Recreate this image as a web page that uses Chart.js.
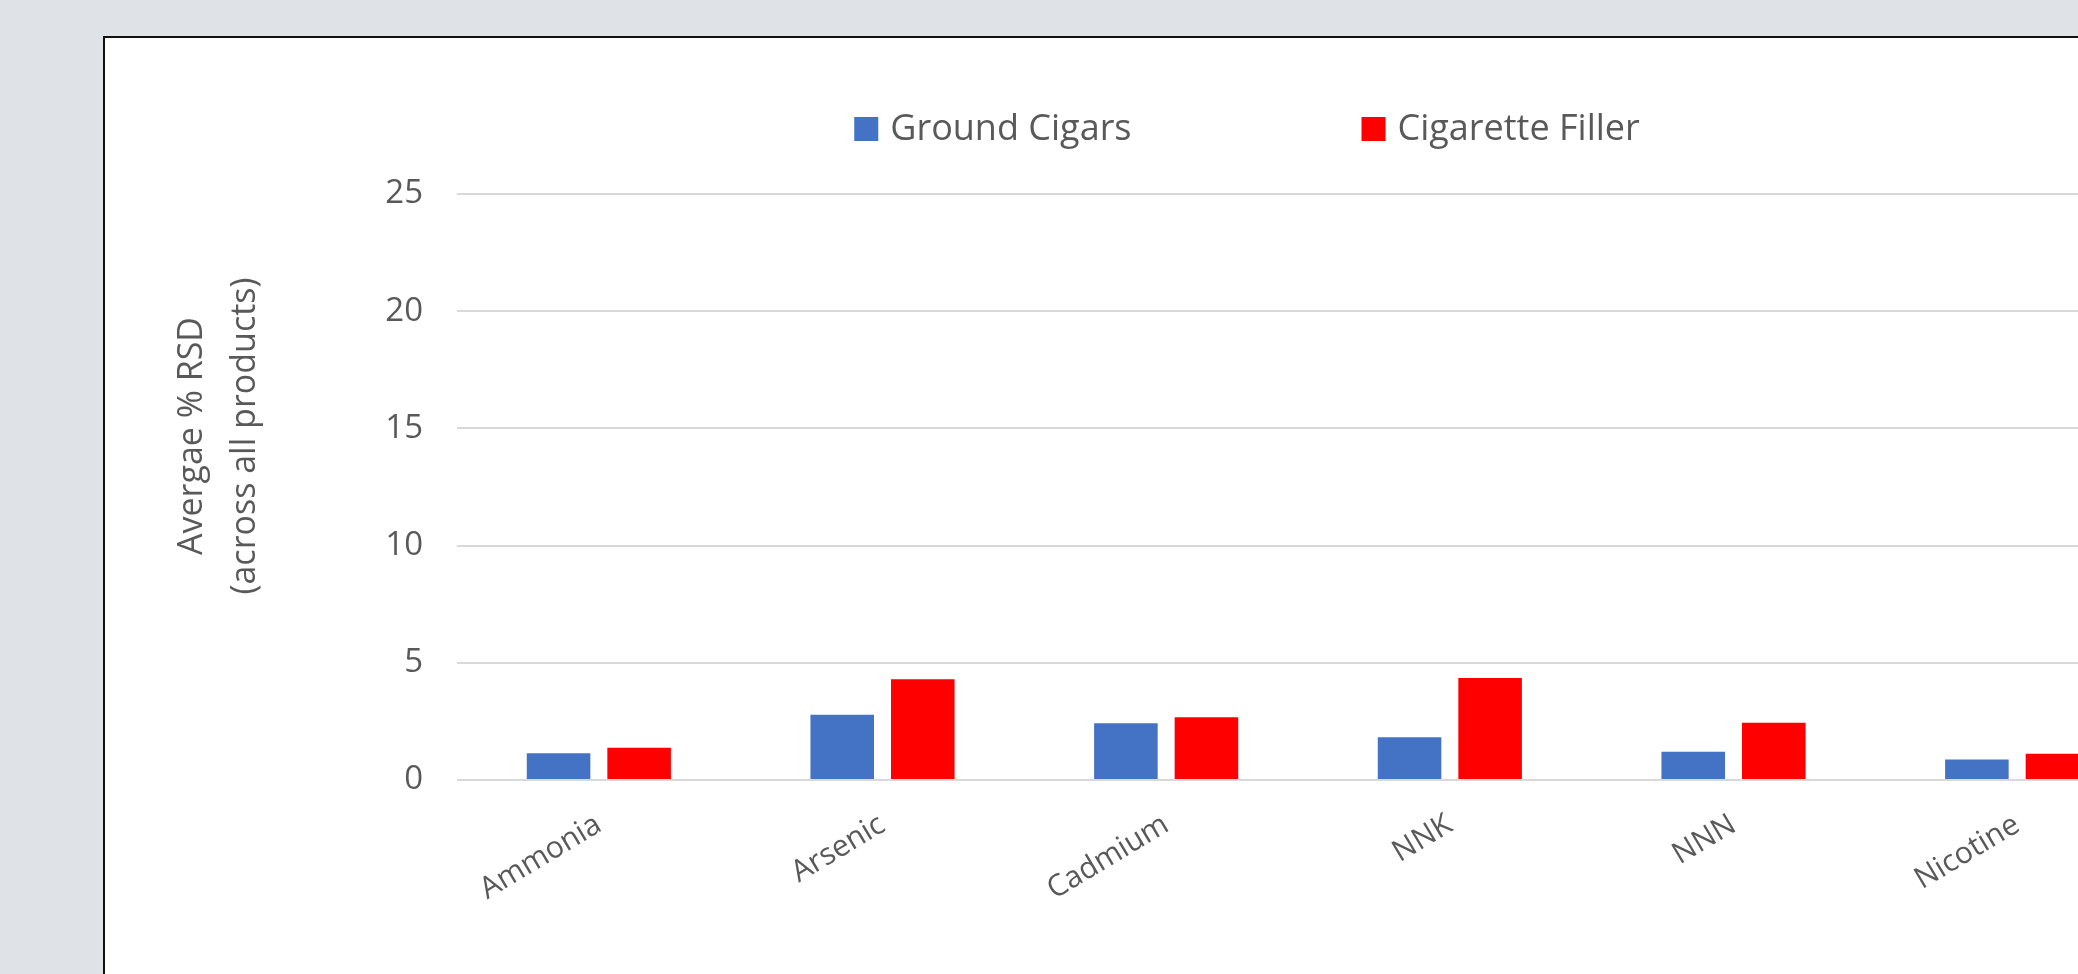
<!DOCTYPE html>
<html lang="en">
<head>
    <meta charset="UTF-8">
    <title>Average % RSD - Ground Cigars vs Cigarette Filler</title>
    <script src="https://cdn.jsdelivr.net/npm/chart.js"></script>
    <style>
        * { margin: 0; padding: 0; box-sizing: border-box; }
        body { background: #dfe3e7; width: 2078px; height: 974px; overflow: hidden; position: relative; font-family: 'Open Sans', sans-serif; }
        .frame { position: absolute; left: 103px; top: 36px; width: 2400px; height: 1000px; background: #fff; border: 2px solid #111; }
        #rsdChart { position: absolute; left: 105px; top: 38px; }
    </style>
</head>
<body>

<div class="frame"></div>
<canvas id="rsdChart" width="2300" height="940"></canvas>

<script>
    // Data
    const categories = ['Ammonia', 'Arsenic', 'Cadmium', 'NNK', 'NNN', 'Nicotine'];
    const groundCigars = [1.14, 2.78, 2.42, 1.82, 1.2, 0.87];
    const cigaretteFiller = [1.38, 4.3, 2.68, 4.35, 2.44, 1.12];
    const seriesNames = ['Ground Cigars', 'Cigarette Filler'];
    const yTicks = [0, 5, 10, 15, 20, 25];
    const yTitle = ['Avergae % RSD', '(across all products)'];

    const textGrey = '#595959';
    Chart.defaults.font.family = "'Open Sans', sans-serif";
    Chart.defaults.color = textGrey;

    // Legend and the two-line axis title, drawn the way the original places them
    const chartDecor = {
        id: 'chartDecor',
        afterDraw(chart) {
            const ctx = chart.ctx;
            ctx.save();

            // legend
            ctx.font = "36px 'Open Sans', sans-serif";
            ctx.textBaseline = 'middle';
            ctx.textAlign = 'left';
            const box = 24, textGap = 12, itemGap = 230, legendY = 91;
            const items = chart.data.datasets.map(ds => ({
                text: ds.label,
                color: ds.backgroundColor,
                w: ctx.measureText(ds.label).width
            }));
            const total = items.reduce((s, it) => s + box + textGap + it.w, 0) + itemGap * (items.length - 1);
            let x = chart.width / 2 - total / 2 - 8;
            items.forEach(it => {
                ctx.fillStyle = it.color;
                ctx.fillRect(x, legendY - box / 2, box, box);
                ctx.fillStyle = textGrey;
                ctx.fillText(it.text, x + box + textGap, legendY + 1);
                x += box + textGap + it.w + itemGap;
            });

            // y axis title
            ctx.translate(87, 398);
            ctx.rotate(-Math.PI / 2);
            ctx.textAlign = 'center';
            ctx.font = "34px 'Open Sans', sans-serif";
            ctx.fillStyle = textGrey;
            yTitle.forEach((line, i) => ctx.fillText(line, 0, i * 53));

            ctx.restore();
        }
    };

    new Chart(document.getElementById('rsdChart'), {
        type: 'bar',
        data: {
            labels: categories,
            datasets: [
                { label: seriesNames[0], data: groundCigars, backgroundColor: '#4472c4' },
                { label: seriesNames[1], data: cigaretteFiller, backgroundColor: '#ff0000' }
            ]
        },
        options: {
            responsive: false,
            animation: false,
            devicePixelRatio: 1,
            categoryPercentage: 0.568,
            barPercentage: 0.789,
            layout: { padding: { top: 156, right: 246, bottom: 0, left: 0 } },
            plugins: {
                legend: { display: false },
                tooltip: { enabled: false }
            },
            scales: {
                x: {
                    grid: { display: false, drawTicks: false },
                    border: { display: false },
                    ticks: {
                        font: { size: 30 },
                        color: textGrey,
                        minRotation: 31,
                        maxRotation: 31,
                        autoSkip: false,
                        padding: 27
                    },
                    afterFit(scale) { scale.height = 198; }
                },
                y: {
                    min: 0,
                    max: 25,
                    afterBuildTicks(scale) { scale.ticks = yTicks.map(v => ({ value: v })); },
                    grid: { color: '#d9d9d9', lineWidth: 2, drawTicks: false },
                    border: { display: false },
                    ticks: {
                        font: { size: 33 },
                        color: textGrey,
                        padding: 34
                    },
                    afterFit(scale) { scale.width = 352; }
                }
            }
        },
        plugins: [chartDecor]
    });
</script>

</body>
</html>
